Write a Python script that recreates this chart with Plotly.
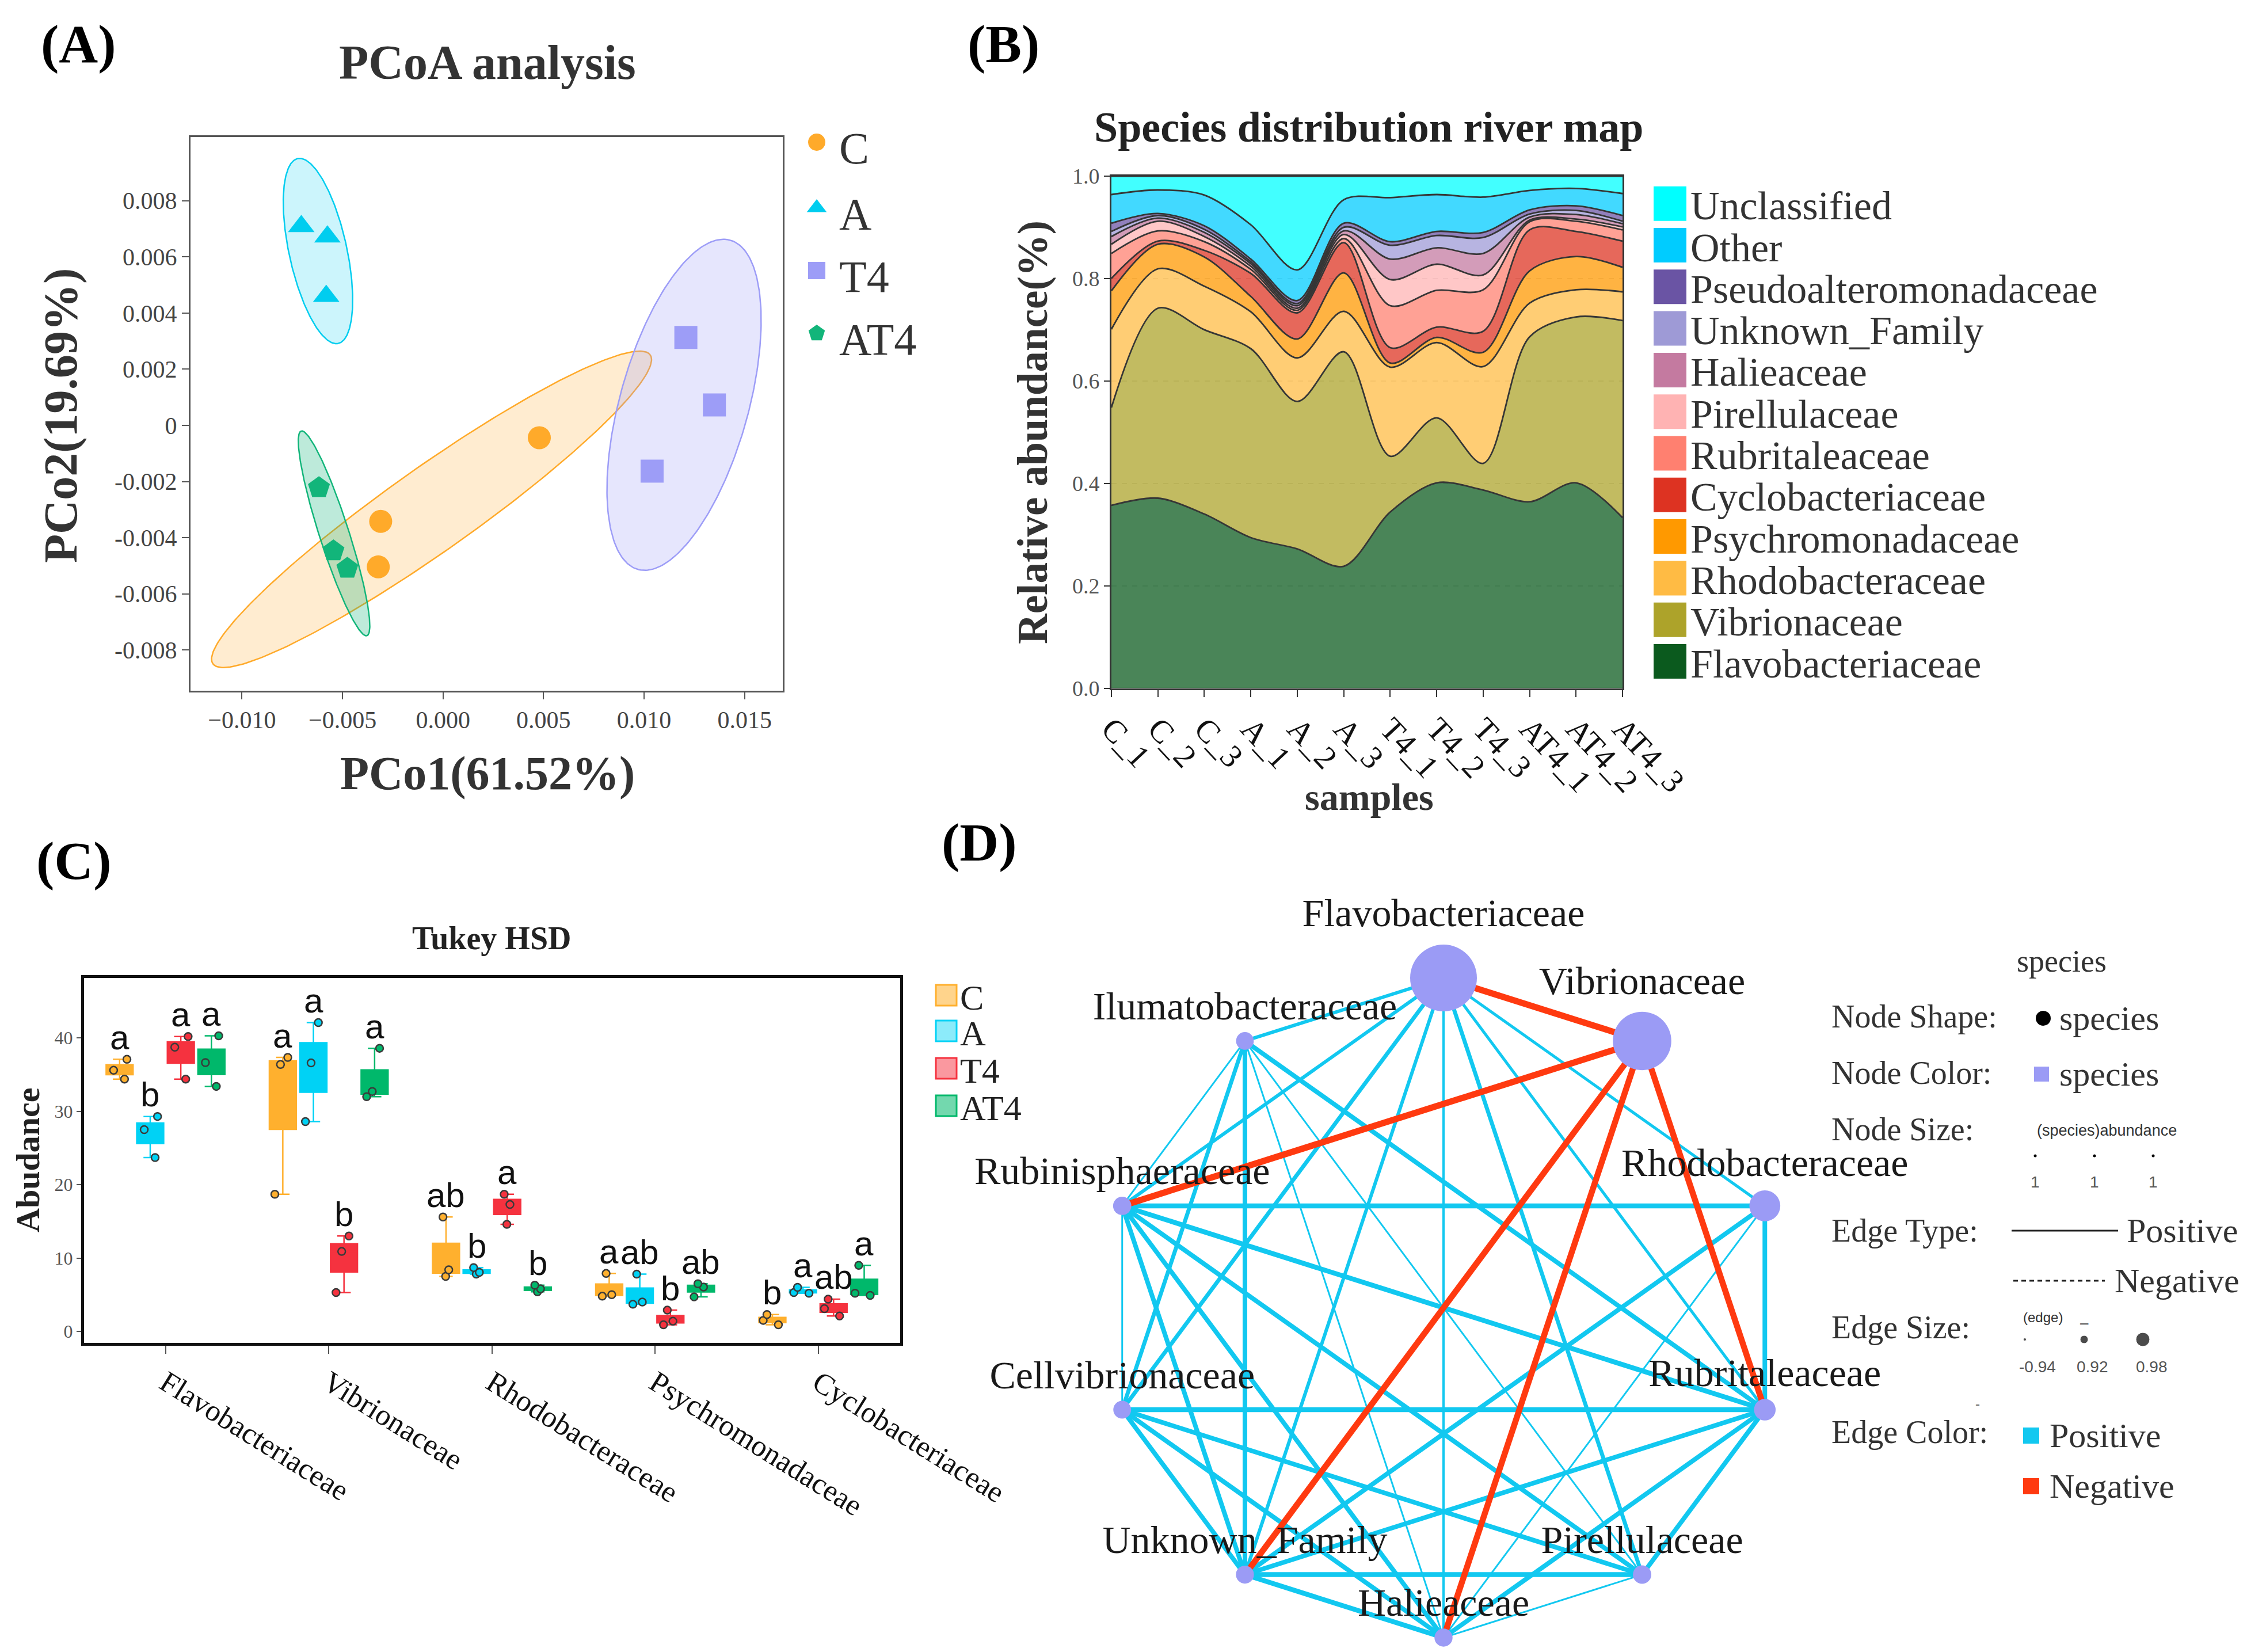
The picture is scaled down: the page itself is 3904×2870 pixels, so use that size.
import numpy as np
import plotly.graph_objects as go

W, H = 3904, 2870
SERIF = "Liberation Serif"
SANS = "Liberation Sans"

# ---------------- Panel A : PCoA ----------------
groups = ["C", "A", "T4", "AT4"]
pco1_C = [0.00479, -0.00310, -0.00322]
pco2_C = [-0.00044, -0.00342, -0.00504]
pco1_A = [-0.00705, -0.00575, -0.00581]
pco2_A = [0.00709, 0.00672, 0.00460]
pco1_T4 = [0.01208, 0.01350, 0.01040]
pco2_T4 = [0.00313, 0.00073, -0.00163]
pco1_AT4 = [-0.00617, -0.00545, -0.00476]
pco2_AT4 = [-0.00222, -0.00447, -0.00509]
# confidence ellipses: centre and two conjugate semi-axis vectors
ell_cx = [-0.00057, -0.00622, 0.01199, -0.00542]
ell_cy = [-0.00299, 0.00621, 0.000733, -0.003846]
ell_ux = [0.01084, 0.000979, 0.002199, 0.001627]
ell_uy = [0.00553, -0.003297, 0.005879, -0.003645]
ell_vx = [0.00149, 0.001422, 0.003142, 0.000717]
ell_vy = [-0.00108, 0.000156, -0.000436, 0.000119]
pcoa_xticks = [-0.010, -0.005, 0.000, 0.005, 0.010, 0.015]
pcoa_yticks = [-0.008, -0.006, -0.004, -0.002, 0, 0.002, 0.004, 0.006, 0.008]
pcoa_ytext = ["-0.008", "-0.006", "-0.004", "-0.002", "0", "0.002", "0.004", "0.006", "0.008"]

# ---------------- Panel B : river map ----------------
samples = ["C_1", "C_2", "C_3", "A_1", "A_2", "A_3",
           "T4_1", "T4_2", "T4_3", "AT4_1", "AT4_2", "AT4_3"]
flavobacteriaceae = [.357, .371, .340, .294, .272, .238, .344, .401, .387, .364, .401, .333]
vibrionaceae = [.191, .371, .360, .369, .288, .419, .109, .127, .052, .322, .324, .385]
rhodobacteraceae = [.153, .077, .085, .072, .085, .079, .174, .147, .189, .066, .053, .056]
psychromonadaceae = [.075, .048, .057, .030, .037, .075, .008, .010, .028, .063, .065, .048]
cyclobacteriaceae = [.024, .006, .013, .045, .051, .059, .030, .020, .041, .080, .049, .051]
rubritaleaceae = [.049, .020, .017, .008, .005, .008, .082, .072, .081, .016, .020, .022]
pirellulaceae = [.018, .019, .010, .006, .004, .008, .051, .051, .029, .003, .004, .006]
halieaceae = [.015, .006, .008, .005, .005, .007, .040, .032, .042, .006, .009, .006]
unknown_family = [.010, .005, .006, .004, .004, .007, .027, .024, .031, .006, .008, .005]
pseudoalteromonadaceae = [.016, .004, .007, .005, .006, .008, .007, .008, .010, .008, .009, .011]
other = [.056, .046, .060, .067, .060, .046, .086, .072, .069, .038, .034, .043]
unclassified = [.036, .027, .037, .095, .183, .046, .042, .036, .041, .028, .024, .034]
river_names = ["Flavobacteriaceae", "Vibrionaceae", "Rhodobacteraceae", "Psychromonadaceae",
               "Cyclobacteriaceae", "Rubritaleaceae", "Pirellulaceae", "Halieaceae",
               "Unknown_Family", "Pseudoalteromonadaceae", "Other", "Unclassified"]
river_values = [flavobacteriaceae, vibrionaceae, rhodobacteraceae, psychromonadaceae,
                cyclobacteriaceae, rubritaleaceae, pirellulaceae, halieaceae,
                unknown_family, pseudoalteromonadaceae, other, unclassified]
river_colors = ["#0B5A1E", "#ADA32A", "#FFBB44", "#FF9900", "#DD3322", "#FF8070",
                "#FFB3B3", "#C47AA0", "#9E9AD6", "#6A54A4", "#00CCFF", "#00FFFF"]
river_yticks = [0.0, 0.2, 0.4, 0.6, 0.8, 1.0]

# ---------------- Panel C : Tukey HSD ----------------
families_c = ["Flavobacteriaceae", "Vibrionaceae", "Rhodobacteraceae",
              "Psychromonadaceae", "Cyclobacteriaceae"]
abund_C = [[34.4, 35.6, 37.1], [18.7, 36.4, 37.35], [7.5, 8.4, 15.6], [4.8, 5.0, 7.9], [0.9, 1.5, 2.3]]
abund_A = [[23.7, 27.5, 29.3], [28.6, 36.6, 42.1], [7.8, 8.05, 8.7], [3.7, 4.0, 7.8], [5.2, 5.3, 6.0]]
abund_T4 = [[34.4, 38.75, 40.2], [5.3, 10.9, 13.0], [14.6, 17.3, 18.7], [0.9, 1.4, 2.9], [2.1, 3.1, 4.4]]
abund_AT4 = [[33.4, 36.65, 40.3], [32.0, 32.7, 38.6], [5.4, 5.8, 6.3], [4.7, 6.05, 6.5], [4.9, 5.2, 9.0]]
letters_C = ["a", "a", "ab", "a", "b"]
letters_A = ["b", "a", "b", "ab", "a"]
letters_T4 = ["a", "b", "a", "b", "ab"]
letters_AT4 = ["a", "a", "b", "ab", "a"]
tukey_yticks = [0, 10, 20, 30, 40]

# ---------------- Panel D : network ----------------
node_names = ["Flavobacteriaceae", "Vibrionaceae", "Rhodobacteraceae", "Rubritaleaceae",
              "Pirellulaceae", "Halieaceae", "Unknown_Family", "Cellvibrionaceae",
              "Rubinisphaeraceae", "Ilumatobacteraceae"]
node_abund = [35.9, 30.0, 10.5, 3.9, 1.6, 1.4, 1.3, 1.2, 1.5, 1.1]
edge_src = ["Flavobacteriaceae", "Flavobacteriaceae", "Flavobacteriaceae", "Flavobacteriaceae",
            "Flavobacteriaceae", "Flavobacteriaceae", "Flavobacteriaceae", "Flavobacteriaceae",
            "Ilumatobacteraceae", "Ilumatobacteraceae", "Ilumatobacteraceae", "Ilumatobacteraceae",
            "Ilumatobacteraceae", "Ilumatobacteraceae",
            "Rubinisphaeraceae", "Rubinisphaeraceae", "Rubinisphaeraceae", "Rubinisphaeraceae",
            "Rubinisphaeraceae", "Rubinisphaeraceae",
            "Cellvibrionaceae", "Cellvibrionaceae", "Cellvibrionaceae", "Cellvibrionaceae",
            "Unknown_Family", "Unknown_Family", "Unknown_Family", "Unknown_Family",
            "Halieaceae", "Halieaceae", "Halieaceae",
            "Pirellulaceae", "Rhodobacteraceae",
            "Flavobacteriaceae", "Vibrionaceae", "Vibrionaceae", "Vibrionaceae", "Vibrionaceae"]
edge_dst = ["Ilumatobacteraceae", "Rubinisphaeraceae", "Cellvibrionaceae", "Unknown_Family",
            "Halieaceae", "Pirellulaceae", "Rubritaleaceae", "Rhodobacteraceae",
            "Rubinisphaeraceae", "Cellvibrionaceae", "Unknown_Family", "Halieaceae",
            "Pirellulaceae", "Rubritaleaceae",
            "Rhodobacteraceae", "Cellvibrionaceae", "Unknown_Family", "Halieaceae",
            "Pirellulaceae", "Rubritaleaceae",
            "Rubritaleaceae", "Unknown_Family", "Halieaceae", "Pirellulaceae",
            "Pirellulaceae", "Halieaceae", "Rubritaleaceae", "Rhodobacteraceae",
            "Pirellulaceae", "Rubritaleaceae", "Rhodobacteraceae",
            "Rubritaleaceae", "Rubritaleaceae",
            "Vibrionaceae", "Rubinisphaeraceae", "Unknown_Family", "Halieaceae", "Rubritaleaceae"]
edge_r = [0.94, 0.94, 0.95, 0.94, 0.92, 0.95, 0.93, 0.93,
          0.91, 0.95, 0.96, 0.91, 0.91, 0.96,
          0.965, 0.91, 0.96, 0.96, 0.96, 0.965,
          0.965, 0.96, 0.96, 0.96,
          0.965, 0.965, 0.96, 0.96,
          0.91, 0.96, 0.91,
          0.96, 0.96,
          -0.99, -0.99, -0.985, -0.985, -0.985]

# ================= figure =================
fig = go.Figure()
col = {"C": "#FFAA2A", "A": "#00CDEF", "T4": "#9D9DF7", "AT4": "#12B57A"}
ell_fill = {"C": "rgba(255,170,42,0.22)", "A": "rgba(0,205,239,0.20)",
            "T4": "rgba(157,157,247,0.25)", "AT4": "rgba(18,181,122,0.28)"}
sym = {"C": "circle", "A": "triangle-up", "T4": "square", "AT4": "pentagon"}
pts = {"C": (pco1_C, pco2_C), "A": (pco1_A, pco2_A), "T4": (pco1_T4, pco2_T4), "AT4": (pco1_AT4, pco2_AT4)}

t = np.linspace(0, 2 * np.pi, 240)
for i, g in enumerate(groups):
    ex = ell_cx[i] + ell_ux[i] * np.cos(t) + ell_vx[i] * np.sin(t)
    ey = ell_cy[i] + ell_uy[i] * np.cos(t) + ell_vy[i] * np.sin(t)
    fig.add_trace(go.Scatter(x=ex, y=ey, mode="lines", fill="toself", fillcolor=ell_fill[g],
                             line=dict(color=col[g], width=2.5), xaxis="x", yaxis="y",
                             showlegend=False, hoverinfo="skip"))
for g in groups:
    fig.add_trace(go.Scatter(x=pts[g][0], y=pts[g][1], mode="markers", name=g,
                             marker=dict(symbol=sym[g], size=40, color=col[g], opacity=1),
                             xaxis="x", yaxis="y", showlegend=False))

# river map
for name, vals, c in zip(river_names, river_values, river_colors):
    r, gg, b = int(c[1:3], 16), int(c[3:5], 16), int(c[5:7], 16)
    fig.add_trace(go.Scatter(x=samples, y=vals, name=name, stackgroup="river", mode="lines",
                             line=dict(shape="spline", smoothing=0.9, color="#363636", width=2.8),
                             fillcolor=f"rgba({r},{gg},{b},0.74)",
                             xaxis="x2", yaxis="y2", showlegend=False))

# Tukey boxes
box_col = {"C": "#FFB02E", "A": "#00D2F5", "T4": "#F5323F", "AT4": "#00B86B"}
box_data = {"C": abund_C, "A": abund_A, "T4": abund_T4, "AT4": abund_AT4}
box_letters = {"C": letters_C, "A": letters_A, "T4": letters_T4, "AT4": letters_AT4}
for g in groups:
    xs, ys = [], []
    for fam, vals in zip(families_c, box_data[g]):
        xs += [fam] * len(vals)
        ys += vals
    fig.add_trace(go.Box(x=xs, y=ys, name=g, boxpoints="all", jitter=0.7, pointpos=0,
                         quartilemethod="inclusive",
                         fillcolor=box_col[g], line=dict(color=box_col[g], width=2.5),
                         whiskerwidth=0.5,
                         marker=dict(color=box_col[g], size=13, opacity=1,
                                     line=dict(color="#3a3a3a", width=2.5)),
                         xaxis="x3", yaxis="y3", showlegend=False))

# network
theta = np.deg2rad(90 - 36 * np.arange(len(node_names)))
nx_, ny_ = np.cos(theta), np.sin(theta)
pos = {n: (nx_[i], ny_[i]) for i, n in enumerate(node_names)}
order = sorted(range(len(edge_r)), key=lambda k: edge_r[k] < 0)
for k in order:
    a, b = pos[edge_src[k]], pos[edge_dst[k]]
    w = 2 + (abs(edge_r[k]) - 0.90) * 100
    fig.add_trace(go.Scatter(x=[a[0], b[0]], y=[a[1], b[1]], mode="lines",
                             line=dict(color="#FF3A10" if edge_r[k] < 0 else "#12C8F0", width=w),
                             xaxis="x4", yaxis="y4", showlegend=False, hoverinfo="skip"))
fig.add_trace(go.Scatter(x=nx_, y=ny_, mode="markers+text", text=node_names,
                         textposition="top center", cliponaxis=False,
                         textfont=dict(family=SERIF, size=68, color="#1a1a1a"),
                         marker=dict(size=[28 + 2.45 * a for a in node_abund], color="#9B9BF5",
                                     opacity=1, line=dict(width=0)),
                         opacity=1,
                         xaxis="x4", yaxis="y4", showlegend=False))

# ---------- canvas (pixel coordinates) for legends ----------
legA_y = [239, 353, 462, 571]
fig.add_trace(go.Scatter(x=[1411] * 4, y=legA_y, mode="markers",
                         marker=dict(symbol=[sym[g] for g in groups], size=30,
                                     color=[col[g] for g in groups]),
                         xaxis="x5", yaxis="y5", showlegend=False, hoverinfo="skip"))
legC_y = [1721, 1783, 1848, 1913]
fig.add_trace(go.Scatter(x=[1636] * 4, y=legC_y, mode="markers",
                         marker=dict(symbol="square", size=36,
                                     color=["rgba(255,176,46,0.55)", "rgba(0,210,245,0.45)",
                                            "rgba(245,50,63,0.5)", "rgba(0,184,107,0.55)"],
                                     line=dict(color=[box_col[g] for g in groups], width=3)),
                         xaxis="x5", yaxis="y5", showlegend=False, hoverinfo="skip"))
fig.add_trace(go.Scatter(x=[3542], y=[1761], mode="markers",
                         marker=dict(symbol="circle", size=26, color="black"),
                         xaxis="x5", yaxis="y5", showlegend=False, hoverinfo="skip"))
fig.add_trace(go.Scatter(x=[3539], y=[1858], mode="markers",
                         marker=dict(symbol="square", size=26, color="#9B9BF5"),
                         xaxis="x5", yaxis="y5", showlegend=False, hoverinfo="skip"))
fig.add_trace(go.Scatter(x=[3528, 3631, 3733], y=[2000] * 3, mode="markers",
                         marker=dict(symbol="circle", size=5, color="black"),
                         xaxis="x5", yaxis="y5", showlegend=False, hoverinfo="skip"))
fig.add_trace(go.Scatter(x=[3487, 3672], y=[2130, 2130], mode="lines",
                         line=dict(color="#222", width=3),
                         xaxis="x5", yaxis="y5", showlegend=False, hoverinfo="skip"))
fig.add_trace(go.Scatter(x=[3490, 3649], y=[2217, 2217], mode="lines",
                         line=dict(color="#222", width=3, dash="8px,6px"),
                         xaxis="x5", yaxis="y5", showlegend=False, hoverinfo="skip"))
fig.add_trace(go.Scatter(x=[3510, 3613, 3715], y=[2319] * 3, mode="markers",
                         marker=dict(symbol="circle", size=[5, 14, 24], color="black"),
                         xaxis="x5", yaxis="y5", showlegend=False, hoverinfo="skip"))
fig.add_trace(go.Scatter(x=[3521, 3521], y=[2486, 2574], mode="markers",
                         marker=dict(symbol="square", size=28, color=["#12C8F0", "#FF3A10"]),
                         xaxis="x5", yaxis="y5", showlegend=False, hoverinfo="skip"))

anns = []
def ann(text, x, y, size, bold=False, family=SERIF, color="#222", xanchor="center",
        yanchor="middle", angle=0, xref="x5", yref="y5"):
    anns.append(dict(text=text, x=x, y=y, xref=xref, yref=yref, showarrow=False,
                     xanchor=xanchor, yanchor=yanchor, textangle=angle,
                     font=dict(family=family, size=size, color=color,
                               weight="bold" if bold else "normal")))

ann("(A)", 128, 68, 94, bold=True, color="black")
ann("(B)", 1735, 68, 94, bold=True, color="black")
ann("(C)", 120, 1487, 94, bold=True, color="black")
ann("(D)", 1693, 1455, 94, bold=True, color="black")
ann("PCoA analysis", 839, 100, 84, bold=True, color="#333")
ann("PCo1(61.52%)", 839, 1335, 82, bold=True, color="#333")
ann("PCo2(19.69%)", 97, 714, 82, bold=True, color="#333", angle=-90)
ann("Species distribution river map", 2370, 213, 74, bold=True, color="#222")
ann("Relative abundance(%)", 1786, 743, 73, bold=True, color="#333", angle=-90)
ann("samples", 2371, 1376, 66, bold=True, color="#333")
ann("Tukey HSD", 846, 1622, 56, bold=True, color="#222")
ann("Abudance", 40, 2008, 58, bold=True, color="#222", angle=-90)

for g, y in zip(groups, legA_y):
    ann(g, 1448, y + 10, 78, color="#333", xanchor="left")
for g, y in zip(groups, legC_y):
    ann(g, 1658, y + 4, 62, color="#222", xanchor="left")

shapes = []
for i, (name, c) in enumerate(zip(river_names[::-1], river_colors[::-1])):
    cy = 345.7 + 72.3 * i
    shapes.append(dict(type="rect", xref="x5", yref="y5", x0=2865, x1=2922,
                       y0=cy - 30, y1=cy + 30, fillcolor=c, line=dict(width=0)))
    ann(name, 2927, cy + 4, 70, color="#333", xanchor="left")

slot = (1 - 0.25) / 4
for j, g in enumerate(groups):
    for i, fam in enumerate(families_c):
        ann(box_letters[g][i], i + (j - 1.5) * slot, max(box_data[g][i]) + 0.2, 60,
            family=SANS, color="#111", yanchor="bottom", xref="x3", yref="y3")

ann("species", 3574, 1662, 54, color="#333")
for lab, y in zip(["Node Shape:", "Node Color:", "Node Size:", "Edge Type:", "Edge Size:", "Edge Color:"],
                  [1758, 1856, 1954, 2130, 2298, 2480]):
    ann(lab, 3172, y, 56, color="#333", xanchor="left")
ann("species", 3568, 1761, 60, color="#333", xanchor="left")
ann("species", 3568, 1858, 60, color="#333", xanchor="left")
ann("(species)abundance", 3652, 1956, 27, family=SANS, color="#333")
for x in [3528, 3631, 3733]:
    ann("1", x, 2045, 28, family=SANS, color="#555")
ann("Positive", 3685, 2130, 60, color="#333", xanchor="left")
ann("Negative", 3664, 2217, 60, color="#333", xanchor="left")
ann("(edge)", 3541, 2280, 24, family=SANS, color="#333")
ann("‒", 3613, 2290, 26, family=SANS, color="#333")
for x, s in zip([3532, 3627, 3730], ["-0.94", "0.92", "0.98"]):
    ann(s, x, 2366, 28, family=SANS, color="#555")
ann("-", 3428, 2430, 24, family=SANS, color="#666")
ann("Positive", 3551, 2486, 60, color="#333", xanchor="left")
ann("Negative", 3551, 2574, 60, color="#333", xanchor="left")

netx0, netx1, nety0, nety1 = 1750, 3250, 1560, 2870
ncx, ncy, rx, ry = 2500, 2264, 587, 573

def dx(p0, p1):
    return [p0 / W, p1 / W]

def dy(top, bottom):
    return [1 - bottom / H, 1 - top / H]

axis_common = dict(showgrid=False, zeroline=False, automargin=False)
fig.update_layout(
    width=W, height=H, template="none",
    margin=dict(l=0, r=0, t=0, b=0),
    paper_bgcolor="white", plot_bgcolor="rgba(0,0,0,0)",
    boxmode="group", boxgap=0.25, boxgroupgap=0.12,
    showlegend=False,
    xaxis=dict(domain=dx(323, 1352), range=[-0.01256, 0.0169], anchor="y",
               tickvals=pcoa_xticks, tickformat=".3f", ticks="outside", ticklen=12, tickwidth=2,
               tickcolor="#555", showline=True, mirror=True, linecolor="#555", linewidth=3,
               tickfont=dict(family=SERIF, size=42, color="#444"), **axis_common),
    yaxis=dict(domain=dy(230, 1192), range=[-0.00945, 0.01027], anchor="x",
               tickvals=pcoa_yticks, ticktext=pcoa_ytext, ticks="outside", ticklen=12, tickwidth=2,
               tickcolor="#555", showline=True, mirror=True, linecolor="#555", linewidth=3,
               tickfont=dict(family=SERIF, size=42, color="#444"), **axis_common),
    xaxis2=dict(domain=dx(1923, 2811), type="category", categoryorder="array",
                categoryarray=samples, range=[0, 11], anchor="y2",
                ticks="outside", ticklen=12, tickwidth=2, tickcolor="#333", tickangle=47,
                showline=True, mirror=True, linecolor="#333", linewidth=3,
                tickfont=dict(family=SERIF, size=56, color="#111"), **axis_common),
    yaxis2=dict(domain=dy(298, 1187.5), range=[0, 1], anchor="x2",
                tickvals=river_yticks, tickformat=".1f", ticks="outside", ticklen=10, tickwidth=2,
                tickcolor="#333", showline=True, mirror=True, linecolor="#333", linewidth=3,
                showgrid=True, gridcolor="rgba(150,150,150,0.35)", griddash="dash", gridwidth=2,
                zeroline=False, automargin=False,
                tickfont=dict(family=SERIF, size=38, color="#555")),
    xaxis3=dict(domain=dx(137.8, 1555.5), type="category", categoryorder="array",
                categoryarray=families_c, range=[-0.5, 4.5], anchor="y3",
                ticks="outside", ticklen=14, tickwidth=2, tickcolor="#555", tickangle=32,
                showline=True, mirror=True, linecolor="#111", linewidth=5,
                tickfont=dict(family=SERIF, size=52, color="#111"), **axis_common),
    yaxis3=dict(domain=dy(1690.8, 2324.5), range=[-1.53, 48.2], anchor="x3",
                tickvals=tukey_yticks, ticks="outside", ticklen=8, tickwidth=2, tickcolor="#555",
                showline=True, mirror=True, linecolor="#111", linewidth=5,
                tickfont=dict(family=SERIF, size=32, color="#555"), **axis_common),
    xaxis4=dict(domain=dx(netx0, netx1), range=[(netx0 - ncx) / rx, (netx1 - ncx) / rx],
                anchor="y4", visible=False, **axis_common),
    yaxis4=dict(domain=dy(nety0, nety1), range=[-(nety1 - ncy) / ry, (ncy - nety0) / ry],
                anchor="x4", visible=False, **axis_common),
    xaxis5=dict(domain=[0, 1], range=[0, W], anchor="y5", visible=False, **axis_common),
    yaxis5=dict(domain=[0, 1], range=[H, 0], anchor="x5", visible=False, **axis_common),
    annotations=anns, shapes=shapes,
)

fig.write_html("out.html")
